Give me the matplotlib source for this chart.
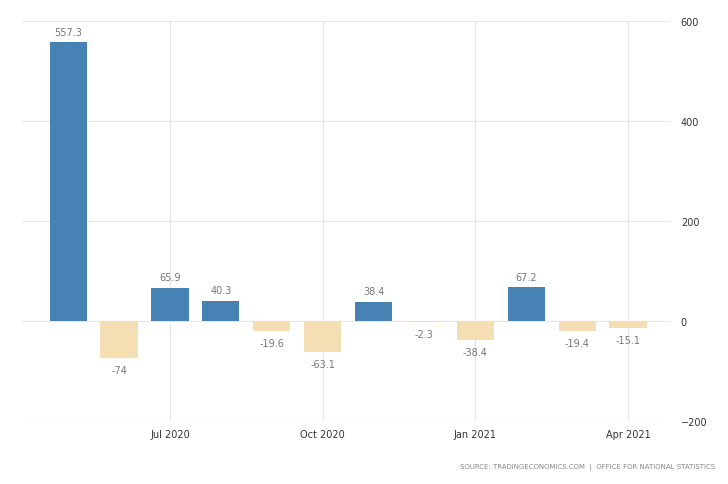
import numpy as np
import matplotlib.pyplot as plt

# monthly change, May 2020 .. Apr 2021
months = ['May 2020', 'Jun 2020', 'Jul 2020', 'Aug 2020', 'Sep 2020', 'Oct 2020',
          'Nov 2020', 'Dec 2020', 'Jan 2021', 'Feb 2021', 'Mar 2021', 'Apr 2021']
values = [557.3, -74, 65.9, 40.3, -19.6, -63.1, 38.4, -2.3, -38.4, 67.2, -19.4, -15.1]
labels = ['557.3', '-74', '65.9', '40.3', '-19.6', '-63.1', '38.4', '-2.3', '-38.4', '67.2', '-19.4', '-15.1']
shown_months = ['Jul 2020', 'Oct 2020', 'Jan 2021', 'Apr 2021']
y_ticks = [-200, 0, 200, 400, 600]

pos_col = '#4682b4'
neg_col = '#f5deb3'

fig = plt.figure(figsize=(7.28, 4.85), dpi=100)
ax = fig.add_axes([0.030, 0.130, 0.890, 0.825])

x = np.arange(len(values))
cols = [pos_col if v >= 0 else neg_col for v in values]
ax.bar(x, values, width=0.73, color=cols, zorder=3)

for xi, v, lab in zip(x, values, labels):
    if v >= 0:
        ax.annotate(lab, (xi, v), xytext=(0, 4), textcoords='offset points',
                    ha='center', va='bottom', fontsize=7, color='#777777')
    else:
        ax.annotate(lab, (xi, v), xytext=(0, -5), textcoords='offset points',
                    ha='center', va='top', fontsize=7, color='#777777')

ax.set_xlim(-0.91, 11.82)
ax.set_ylim(-200, 600)
ax.set_yticks(y_ticks)
ax.yaxis.tick_right()
ax.set_xticks([months.index(m) for m in shown_months])
ax.set_xticklabels(shown_months)
ax.tick_params(axis='both', length=0, labelsize=7, labelcolor='#333333')
ax.tick_params(axis='y', pad=8)
ax.tick_params(axis='x', pad=6)

ax.grid(True, color='#e6e6e6', linewidth=0.8, zorder=0)
for s in ax.spines.values():
    s.set_visible(False)

fig.text(0.982, 0.037, 'SOURCE: TRADINGECONOMICS.COM  |  OFFICE FOR NATIONAL STATISTICS',
         ha='right', va='center', fontsize=5, color='#888888')

fig.savefig('out.png', dpi=100)
